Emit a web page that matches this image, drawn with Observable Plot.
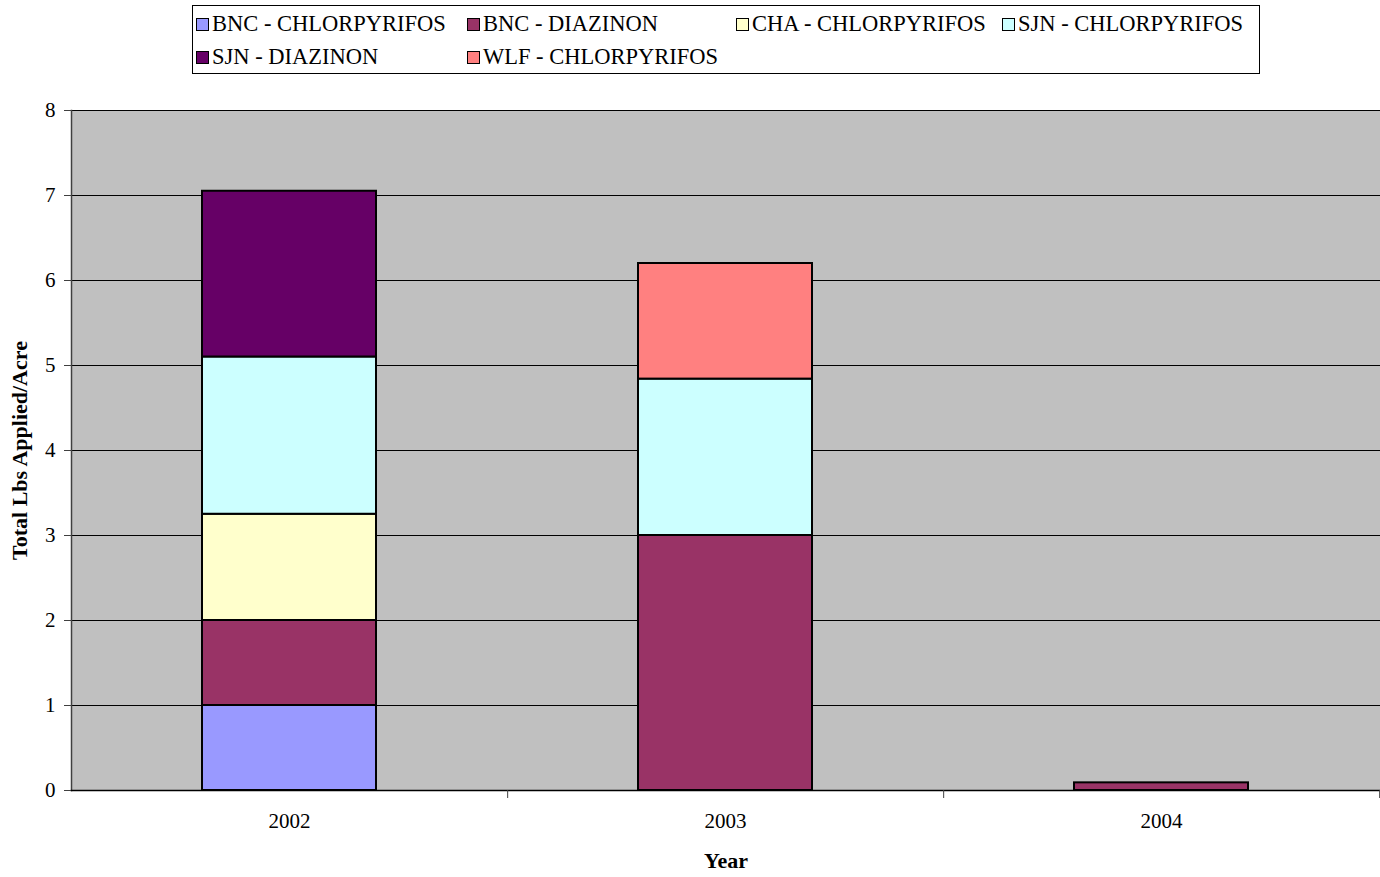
<!DOCTYPE html>
<html>
<head>
<meta charset="utf-8">
<script src="https://cdn.jsdelivr.net/npm/d3@7"></script>
<script src="https://cdn.jsdelivr.net/npm/@observablehq/plot@0.6"></script>
<style>
  html, body { margin: 0; padding: 0; background: #fff; }
  body { width: 1380px; height: 877px; overflow: hidden; font-family: "Liberation Serif", serif; }
  #legend { position: relative; height: 80px; }
  #legend .box { position: absolute; left: 192px; top: 5px; width: 1068px; height: 69px; border: 1px solid #000; box-sizing: border-box; }
  #legend .item { position: absolute; display: flex; align-items: center; font-size: 22.5px; line-height: 24px; color: #000; white-space: nowrap; }
  #legend .sw { width: 11px; height: 11px; border: 1.5px solid #000; margin-right: 3px; }
  #chart svg { display: block; }
</style>
</head>
<body>
<div id="legend"><div class="box"></div></div>
<div id="chart"></div>
<script>
const years = ["2002", "2003", "2004"];
const seriesNames = ["BNC - CHLORPYRIFOS", "BNC - DIAZINON", "CHA - CHLORPYRIFOS", "SJN - CHLORPYRIFOS", "SJN - DIAZINON", "WLF - CHLORPYRIFOS"];
const seriesColors = ["#9999FF", "#993366", "#FFFFCC", "#CCFFFF", "#660066", "#FF8080"];
const bncChlorpyrifos = [1.0, 0, 0];
const bncDiazinon = [1.0, 3.0, 0.09];
const chaChlorpyrifos = [1.25, 0, 0];
const sjnChlorpyrifos = [1.85, 1.84, 0];
const sjnDiazinon = [1.95, 0, 0];
const wlfChlorpyrifos = [0, 1.36, 0];
const yTicks = [0, 1, 2, 3, 4, 5, 6, 7, 8];

const seriesValues = [bncChlorpyrifos, bncDiazinon, chaChlorpyrifos, sjnChlorpyrifos, sjnDiazinon, wlfChlorpyrifos];
const rows = [];
seriesNames.forEach((s, i) => {
  years.forEach((y, j) => {
    rows.push({ year: y, series: s, value: seriesValues[i][j] });
  });
});
const visible = rows.filter(d => d.value > 0);

// legend (HTML)
const legendPos = [[196, 12], [467, 12], [736, 12], [1002, 12], [196, 45], [467, 45]];
const legend = document.getElementById("legend");
seriesNames.forEach((s, i) => {
  const it = document.createElement("div");
  it.className = "item";
  it.style.left = legendPos[i][0] + "px";
  it.style.top = legendPos[i][1] + "px";
  const sw = document.createElement("div");
  sw.className = "sw";
  sw.style.background = seriesColors[i];
  const tx = document.createElement("span");
  tx.textContent = s;
  it.appendChild(sw);
  it.appendChild(tx);
  legend.appendChild(it);
});

const halfStep = (1380 - 71) / 3 / 2;

const chart = Plot.plot({
  width: 1380,
  height: 797,
  marginTop: 30,
  marginLeft: 71,
  marginRight: 0,
  marginBottom: 87,
  style: { fontFamily: "Liberation Serif, serif", fontSize: "21px", color: "#000", background: "#fff" },
  x: { domain: years, paddingInner: 0.6, paddingOuter: 0.3 },
  y: { domain: [0, 8] },
  color: { domain: seriesNames, range: seriesColors },
  marks: [
    Plot.frame({ fill: "#C0C0C0", stroke: null }),
    Plot.gridY(yTicks, { stroke: "#000", strokeOpacity: 1, strokeWidth: 1 }),
    Plot.barY(visible, Plot.stackY({ x: "year", y: "value", z: "series", fill: "series", stroke: "#000", strokeWidth: 2, order: null })),
    Plot.frame({ anchor: "left", stroke: "#404040", strokeWidth: 1.5 }),
    Plot.frame({ anchor: "bottom", stroke: "#000", strokeWidth: 1.5 }),
    Plot.axisY(yTicks, { tickSize: 7, tickPadding: 9, stroke: "#404040", tickFormat: "d", label: "Total Lbs Applied/Acre", labelAnchor: "center", labelOffset: 60, labelArrow: "none", fontSize: 21, fontFamily: "Liberation Serif, serif" }),
    Plot.axisX({ tickSize: 0, tickPadding: 23, label: "Year", labelAnchor: "center", labelOffset: 77, labelArrow: "none", fontSize: 21, fontFamily: "Liberation Serif, serif" }),
    Plot.axisX({ tickSize: 8, dx: halfStep, text: null, label: null, stroke: "#404040" })
  ]
});

// bold axis labels
chart.querySelectorAll("g[aria-label='y-axis label'], g[aria-label='x-axis label']").forEach(g => {
  g.setAttribute("font-weight", "bold");
  g.setAttribute("font-size", "22");
});
document.getElementById("chart").appendChild(chart);
</script>
</body>
</html>
